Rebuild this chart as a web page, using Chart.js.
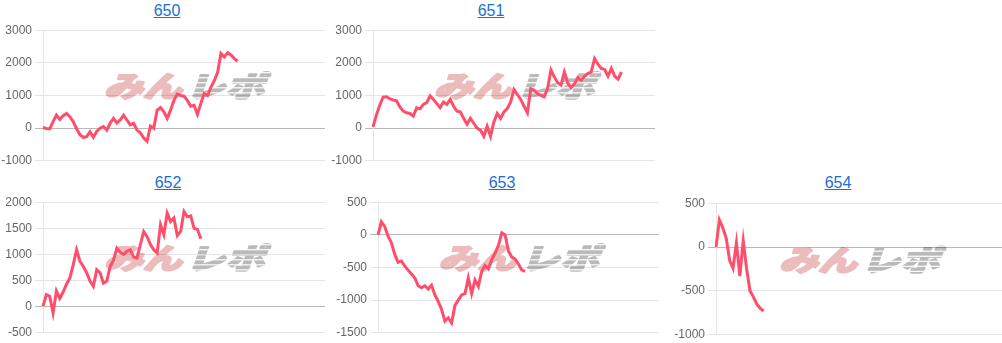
<!DOCTYPE html>
<html>
<head>
<meta charset="utf-8">
<script src="https://cdn.jsdelivr.net/npm/chart.js@4.4.0/dist/chart.umd.min.js"></script>
<style>
  html, body { margin: 0; padding: 0; background: #fff; }
  #wrap { position: relative; width: 1002px; height: 343px; overflow: hidden; }
  canvas { position: absolute; }
  .ttl { position: absolute; font: 16px Arial, "Liberation Sans", sans-serif; line-height: 18px;
         color: rgb(26,112,214); text-decoration: underline; white-space: nowrap; transform: translateX(-50%); }
</style>
</head>
<body>
<div id="wrap"></div>
<script>
// ---- data ----
const xLabels = [0,1,2,3,4,5,6,7,8,9,10,11,12,13,14,15,16,17,18,19,20,21,22,23,24,25,26,27,28,29,
  30,31,32,33,34,35,36,37,38,39,40,41,42,43,44,45,46,47,48,49,50,51,52,53,54,55,56,57,58,59,
  60,61,62,63,64,65,66,67,68,69,70,71,72,73,74,75,76,77,78,79,80,81,82,83,84];

const titles = ["650", "651", "652", "653", "654"];

const data650 = [20,-10,-20,200,400,270,380,450,350,200,-20,-200,-280,-260,-110,-280,-100,0,50,-60,
  150,300,160,250,400,250,100,150,-60,-140,-300,-400,60,0,550,630,500,300,550,850,
  1040,1000,980,850,670,700,420,750,1060,1000,1250,1450,1700,2290,2180,2310,2240,2130,2050];
const data651 = [40,400,700,950,960,900,860,840,650,520,470,450,370,620,590,730,780,990,880,750,
  630,800,730,880,670,520,500,300,120,300,150,0,-60,-250,60,-250,190,450,300,500,
  600,800,1180,1030,880,670,470,1210,1160,1060,1000,960,1210,1780,1570,1390,1320,1720,1390,1240,
  1350,1550,1470,1590,1670,1720,2130,1960,1830,1800,1590,1830,1590,1500,1720];
const data652 = [10,230,200,-120,300,160,280,430,550,800,1090,870,770,650,490,390,710,650,450,490,
  770,890,1120,1040,1000,1060,1090,950,930,1190,1440,1340,1190,1090,1030,1570,1380,1790,1630,1700,
  1360,1440,1820,1720,1740,1500,1480,1300];
const data653 = [0,200,130,-20,-120,-300,-420,-400,-480,-540,-600,-660,-780,-810,-780,-830,-770,-920,-1020,-1140,
  -1320,-1270,-1350,-1080,-1000,-920,-900,-660,-900,-690,-790,-560,-470,-520,-380,-280,-160,30,0,-250,
  -340,-370,-450,-540,-560];
const data654 = [0,310,220,100,-150,-240,50,-330,70,-250,-500,-570,-650,-700,-730];

const ticks650 = [-1000,0,1000,2000,3000];
const ticks651 = [-1000,0,1000,2000,3000];
const ticks652 = [-500,0,500,1000,1500,2000];
const ticks653 = [-1500,-1000,-500,0,500];
const ticks654 = [-1000,-500,0,500];

// ---- layout (positions of each panel) ----
const panels = [
  { title: titles[0], data: data650, ticks: ticks650, left: 0,   top: 20,  w: 325, h: 151, tx: 167, ty: 2 },
  { title: titles[1], data: data651, ticks: ticks651, left: 330, top: 20,  w: 325, h: 151, tx: 491, ty: 2 },
  { title: titles[2], data: data652, ticks: ticks652, left: 0,   top: 192, w: 325, h: 151, tx: 168, ty: 174 },
  { title: titles[3], data: data653, ticks: ticks653, left: 335, top: 192, w: 324, h: 151, tx: 502, ty: 174 },
  { title: titles[4], data: data654, ticks: ticks654, left: 673, top: 193, w: 329, h: 152, tx: 838, ty: 174 },
];

const watermark = {
  id: 'watermark',
  beforeDraw(chart) {
    const { ctx, chartArea: a } = chart;
    const cx = (a.left + a.right) / 2, cy = (a.top + a.bottom) / 2 - 9;
    ctx.save();
    ctx.translate(cx, cy);
    ctx.scale(0.98, 0.72);
    ctx.font = 'italic 900 40px "Noto Sans CJK JP", "Noto Sans CJK SC", sans-serif';
    ctx.textBaseline = 'middle';
    ctx.lineJoin = 'round';
    const t1 = 'みん', t2 = 'レポ';
    const w1 = ctx.measureText(t1).width, w2 = ctx.measureText(t2).width;
    const gap = 4;
    const total = w1 + gap + w2;
    const x0 = -total / 2;
    ctx.fillStyle = '#ecbcbc';
    ctx.strokeStyle = '#ecbcbc';
    ctx.lineWidth = 2.5;
    ctx.fillText(t1, x0, 0);
    ctx.strokeText(t1, x0, 0);
    const x2 = x0 + w1 + gap;
    ctx.fillStyle = '#bababa';
    ctx.strokeStyle = '#bababa';
    ctx.fillText(t2, x2, 0);
    ctx.strokeText(t2, x2, 0);
    ctx.globalCompositeOperation = 'destination-out';
    ctx.fillStyle = '#000';
    for (let y = -20; y < 24; y += 7) {
      ctx.fillRect(x2 - 4, y, w2 + 10, 1.6);
    }
    ctx.restore();
  }
};

const wrap = document.getElementById('wrap');
panels.forEach((p, i) => {
  const a = document.createElement('a');
  a.className = 'ttl';
  a.textContent = p.title;
  a.style.left = p.tx + 'px';
  a.style.top = p.ty + 'px';
  wrap.appendChild(a);

  const c = document.createElement('canvas');
  c.width = p.w; c.height = p.h;
  c.style.left = p.left + 'px';
  c.style.top = p.top + 'px';
  c.style.width = p.w + 'px';
  c.style.height = p.h + 'px';
  wrap.appendChild(c);

  const tk = p.ticks;
  new Chart(c, {
    type: 'line',
    data: {
      labels: xLabels,
      datasets: [{
        data: p.data,
        borderColor: 'rgb(255,77,106)',
        borderWidth: 3,
        pointRadius: 0,
        fill: false,
        tension: 0
      }]
    },
    options: {
      responsive: false,
      animation: false,
      devicePixelRatio: 1,
      layout: { padding: { top: 10, bottom: 10, left: 0, right: 0 } },
      plugins: { legend: { display: false }, tooltip: { enabled: false }, title: { display: false } },
      scales: {
        x: { display: false },
        y: {
          min: tk[0],
          max: tk[tk.length - 1],
          afterFit(s) { s.width = 43; },
          afterBuildTicks(s) { s.ticks = tk.map(v => ({ value: v })); },
          ticks: {
            color: '#666',
            font: { family: 'Arial, "Liberation Sans", sans-serif', size: 12 },
            padding: 3,
            callback: v => String(v)
          },
          grid: {
            color: ctx => (ctx.tick && ctx.tick.value === 0) ? 'rgba(0,0,0,0.28)' : 'rgba(0,0,0,0.1)',
            tickLength: 8
          },
          border: { color: 'rgba(0,0,0,0.1)' }
        }
      }
    },
    plugins: [watermark]
  });
});
</script>
</body>
</html>
